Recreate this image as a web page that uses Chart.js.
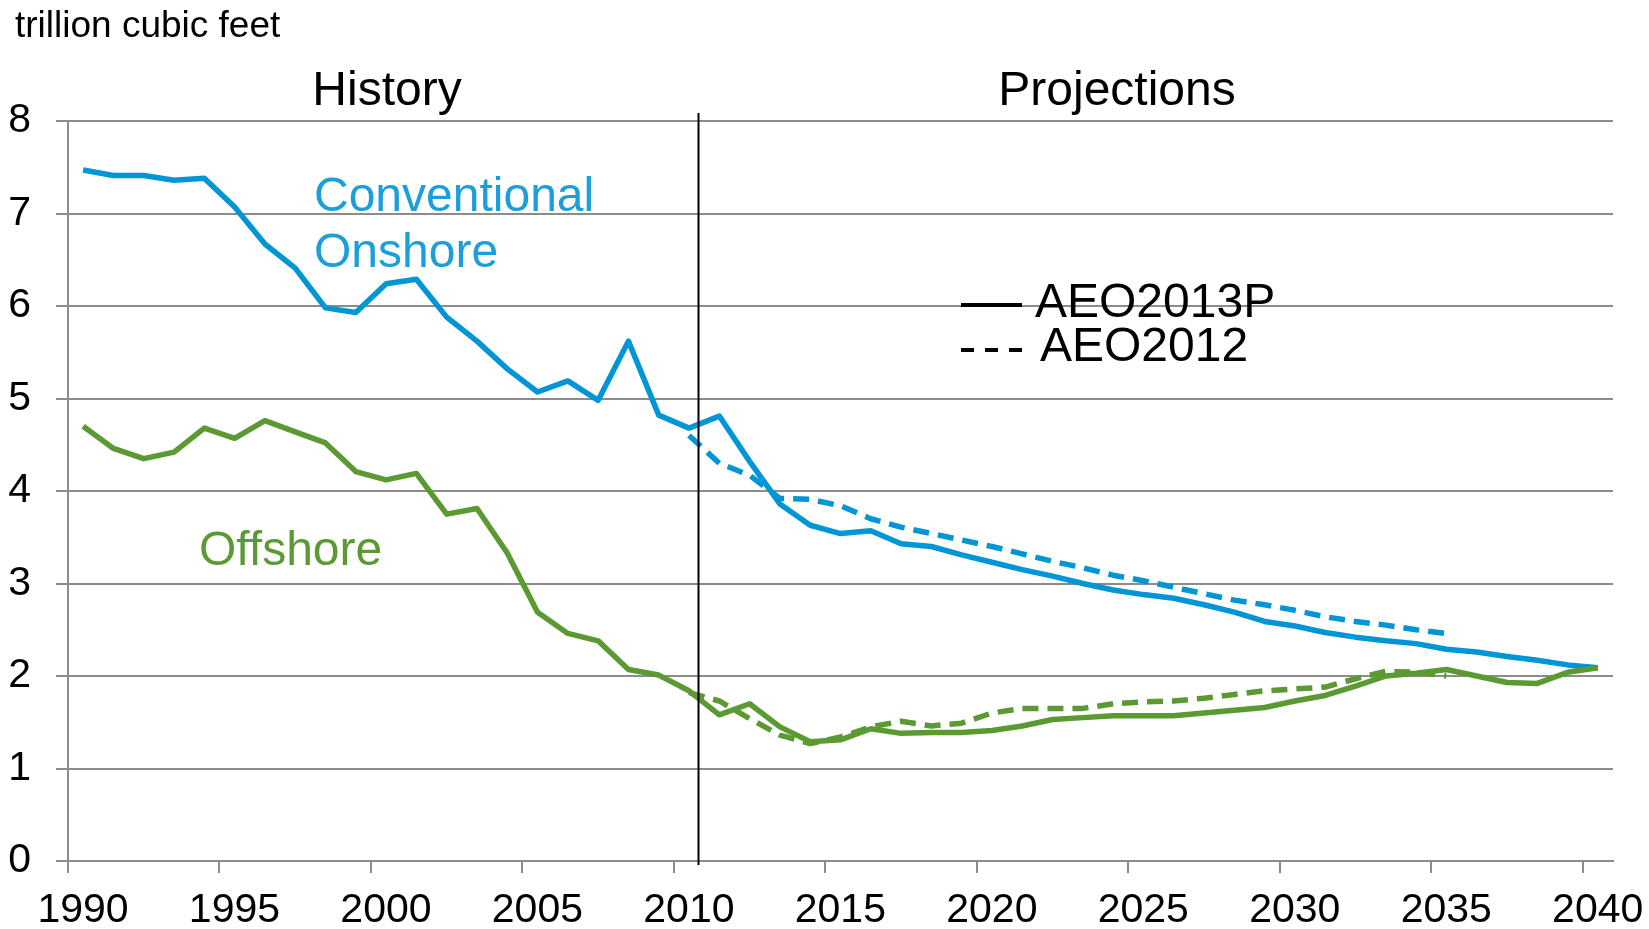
<!DOCTYPE html>
<html>
<head>
<meta charset="utf-8">
<title>Conventional onshore and offshore natural gas production</title>
<script src="https://cdn.jsdelivr.net/npm/chart.js@4.4.1/dist/chart.umd.min.js"></script>
<style>
  html, body { margin: 0; padding: 0; background: #fff; }
  #wrap { width: 1649px; height: 929px; }
</style>
</head>
<body>
<div id="wrap"><canvas id="gasChart" width="1649" height="929"></canvas></div>
<script>
// Years of the AEO2013P run (history + projection) and of the older AEO2012 run
const years = [1990, 1991, 1992, 1993, 1994, 1995, 1996, 1997, 1998, 1999,
               2000, 2001, 2002, 2003, 2004, 2005, 2006, 2007, 2008, 2009,
               2010, 2011, 2012, 2013, 2014, 2015, 2016, 2017, 2018, 2019,
               2020, 2021, 2022, 2023, 2024, 2025, 2026, 2027, 2028, 2029,
               2030, 2031, 2032, 2033, 2034, 2035, 2036, 2037, 2038, 2039, 2040];
const years2012 = [2010, 2011, 2012, 2013, 2014, 2015, 2016, 2017, 2018, 2019,
                   2020, 2021, 2022, 2023, 2024, 2025, 2026, 2027, 2028, 2029,
                   2030, 2031, 2032, 2033, 2034, 2035];

// trillion cubic feet
const onshore2013 = [7.47, 7.41, 7.41, 7.36, 7.38, 7.07, 6.67, 6.41, 5.98, 5.93,
                     6.24, 6.29, 5.88, 5.62, 5.32, 5.07, 5.19, 4.98, 5.62, 4.82,
                     4.68, 4.81, 4.32, 3.86, 3.63, 3.54, 3.57, 3.43, 3.40, 3.31,
                     3.23, 3.15, 3.08, 3.00, 2.93, 2.88, 2.84, 2.77, 2.69, 2.59,
                     2.54, 2.47, 2.42, 2.38, 2.35, 2.29, 2.26, 2.21, 2.17, 2.12, 2.09];
const offshore2013 = [4.70, 4.46, 4.35, 4.42, 4.68, 4.57, 4.76, 4.64, 4.52, 4.21,
                      4.12, 4.19, 3.75, 3.81, 3.33, 2.69, 2.46, 2.38, 2.07, 2.01,
                      1.84, 1.58, 1.70, 1.45, 1.29, 1.31, 1.43, 1.38, 1.39, 1.39,
                      1.41, 1.46, 1.53, 1.55, 1.57, 1.57, 1.57, 1.60, 1.63, 1.66,
                      1.73, 1.79, 1.89, 2.00, 2.03, 2.07, 2.00, 1.93, 1.92, 2.04, 2.09];
const onshore2012 = [4.60, 4.30, 4.17, 3.92, 3.91, 3.84, 3.70, 3.61, 3.54, 3.47,
                     3.40, 3.32, 3.24, 3.17, 3.09, 3.03, 2.96, 2.89, 2.82, 2.77,
                     2.71, 2.64, 2.59, 2.55, 2.50, 2.46];
const offshore2012 = [1.82, 1.73, 1.54, 1.36, 1.27, 1.34, 1.45, 1.51, 1.46, 1.49,
                      1.60, 1.65, 1.65, 1.65, 1.70, 1.72, 1.73, 1.76, 1.80, 1.84,
                      1.86, 1.88, 1.97, 2.05, 2.04, 2.00];

const xTicks = [1990, 1995, 2000, 2005, 2010, 2015, 2020, 2025, 2030, 2035, 2040];
const yTicks = [0, 1, 2, 3, 4, 5, 6, 7, 8];
const dividerYear = 2010.8;   // history / projections split

const BLUE = '#0096d6';
const GREEN = '#5b9a32';
const GRID = '#8c8c8c';
const FONT = '"Liberation Sans", Arial, sans-serif';

// excel-style category axis: each year sits in the middle of its slot
const toPoints = (yrs, vals) => yrs.map((yr, i) => ({ x: yr + 0.5, y: vals[i] }));

const overlay = {
  id: 'overlay',
  afterDatasetsDraw(chart) {
    const { ctx, chartArea, scales: { x } } = chart;
    ctx.save();

    // divider between history and projections
    const dx = Math.round(x.getPixelForValue(dividerYear)) + 0.5;
    ctx.strokeStyle = '#000';
    ctx.lineWidth = 2;
    ctx.beginPath();
    ctx.moveTo(dx, chartArea.top - 8);
    ctx.lineTo(dx, chartArea.bottom + 4);
    ctx.stroke();

    ctx.textBaseline = 'alphabetic';
    ctx.fillStyle = '#000';
    ctx.font = '37px ' + FONT;
    ctx.textAlign = 'left';
    ctx.fillText('trillion cubic feet', 15, 37);

    ctx.font = '48px ' + FONT;
    ctx.textAlign = 'center';
    ctx.fillText('History', 387, 105);
    ctx.fillText('Projections', 1117, 105);

    ctx.textAlign = 'left';
    ctx.fillStyle = '#1a9fda';
    ctx.fillText('Conventional', 314, 211);
    ctx.fillText('Onshore', 314, 267);
    ctx.fillStyle = GREEN;
    ctx.fillText('Offshore', 199, 565);

    // legend
    ctx.fillStyle = '#000';
    ctx.fillText('AEO2013P', 1035, 317);
    ctx.fillText('AEO2012', 1040, 361);
    ctx.strokeStyle = '#000';
    ctx.lineWidth = 4;
    ctx.beginPath();
    ctx.moveTo(961, 305);
    ctx.lineTo(1022, 305);
    ctx.stroke();
    ctx.setLineDash([13, 11]);
    ctx.beginPath();
    ctx.moveTo(961, 350);
    ctx.lineTo(1022, 350);
    ctx.stroke();

    ctx.restore();
  }
};

const lineStyle = {
  borderWidth: 5.5,
  pointRadius: 0,
  tension: 0,
  fill: false,
  borderJoinStyle: 'round'
};

new Chart(document.getElementById('gasChart'), {
  type: 'line',
  data: {
    datasets: [
      { label: 'Offshore AEO2012', data: toPoints(years2012, offshore2012),
        borderColor: GREEN, borderDash: [16, 9], ...lineStyle },
      { label: 'Conventional onshore AEO2012', data: toPoints(years2012, onshore2012),
        borderColor: BLUE, borderDash: [16, 9], ...lineStyle },
      { label: 'Offshore AEO2013P', data: toPoints(years, offshore2013),
        borderColor: GREEN, ...lineStyle },
      { label: 'Conventional onshore AEO2013P', data: toPoints(years, onshore2013),
        borderColor: BLUE, ...lineStyle }
    ]
  },
  options: {
    responsive: false,
    animation: false,
    devicePixelRatio: 1,
    layout: { padding: { top: 121, right: 36, left: 0, bottom: 0 } },
    plugins: {
      legend: { display: false },
      tooltip: { enabled: false }
    },
    scales: {
      x: {
        type: 'linear',
        min: 1990,
        max: 2041,
        afterBuildTicks: s => { s.ticks = xTicks.map(v => ({ value: v })); },
        afterFit: s => { s.height = 68; },
        grid: { drawOnChartArea: false, drawTicks: true, tickLength: 12, color: GRID, lineWidth: 2 },
        border: { color: GRID, width: 2 },
        ticks: {
          color: '#000',
          font: { family: FONT, size: 41 },
          padding: 13,
          labelOffset: 15,
          maxRotation: 0,
          autoSkip: false,
          callback: v => String(v)
        }
      },
      y: {
        min: 0,
        max: 8,
        afterBuildTicks: s => { s.ticks = yTicks.map(v => ({ value: v })); },
        afterFit: s => { s.width = 68; },
        grid: { color: GRID, lineWidth: 2, tickLength: 12 },
        border: { color: GRID, width: 2 },
        ticks: {
          color: '#000',
          font: { family: FONT, size: 41 },
          padding: 25
        }
      }
    }
  },
  plugins: [overlay]
});
</script>
</body>
</html>
